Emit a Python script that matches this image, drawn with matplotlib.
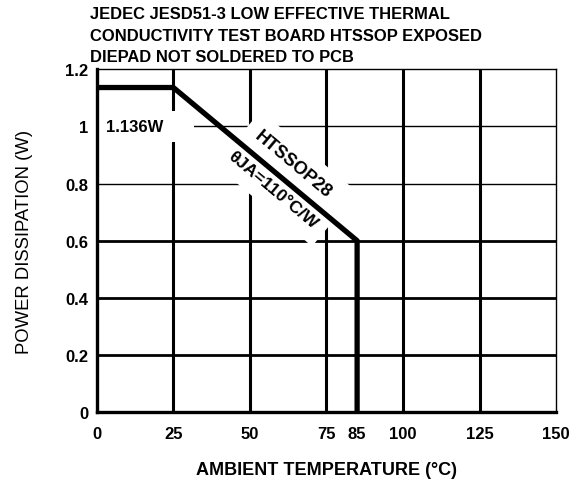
import matplotlib
matplotlib.use("Agg")
import matplotlib.pyplot as plt

plt.rcParams["font.family"] = ["Liberation Sans", "DejaVu Sans"]

# derating curve: flat at max power up to 25 C, then theta_JA slope to 85 C
temps = [0, 25, 85, 85]
power = [1.136, 1.136, 0.6, 0]

x_ticks = [0, 25, 50, 75, 85, 100, 125, 150]
x_grid = [25, 50, 75, 100, 125]
y_ticks = [0, 0.2, 0.4, 0.6, 0.8, 1.0, 1.2]
y_labels = ["0", "0.2", "0.4", "0.6", "0.8", "1", "1.2"]
y_grid_thick = [0.2, 0.4, 0.6]
y_grid_thin = [0.8, 1.0]

title = ("JEDEC JESD51-3 LOW EFFECTIVE THERMAL\n"
         "CONDUCTIVITY TEST BOARD HTSSOP EXPOSED\n"
         "DIEPAD NOT SOLDERED TO PCB")

fig = plt.figure(figsize=(5.83, 4.81), dpi=100)
ax = fig.add_axes([0.166, 0.141, 0.788, 0.713])

for xv in x_grid:
    ax.axvline(xv, color="black", lw=2.2, zorder=1)
for yv in y_grid_thick:
    ax.axhline(yv, color="black", lw=2.0, zorder=1)
for yv in y_grid_thin:
    ax.axhline(yv, color="black", lw=1.0, zorder=1)

ax.plot(temps, power, color="black", lw=3.8, solid_capstyle="butt", zorder=4)

ax.text(2.9, 1.0, "1.136W     ", ha="left", va="center", fontsize=12, fontweight="bold",
        bbox=dict(facecolor="white", edgecolor="none", pad=6), zorder=2)
box = dict(facecolor="white", edgecolor="none", pad=8)
ax.text(64, 0.87, "HTSSOP28", ha="center", va="center", rotation=-40,
        rotation_mode="anchor", fontsize=13, fontweight="bold", bbox=box, zorder=2)
ax.text(57.5, 0.78, "θJA=110°C/W", ha="center", va="center", rotation=-40,
        rotation_mode="anchor", fontsize=12.6, fontweight="bold", bbox=box, zorder=2)

ax.set_xlim(0, 150)
ax.set_ylim(0, 1.2)
ax.set_xticks(x_ticks)
ax.set_yticks(y_ticks)
ax.set_yticklabels(y_labels)
ax.tick_params(length=0, labelsize=12)
ax.tick_params(axis="x", pad=10)
ax.tick_params(axis="y", pad=6)
for lab in ax.get_xticklabels() + ax.get_yticklabels():
    lab.set_fontweight("bold")
for side in ["left", "bottom"]:
    ax.spines[side].set_linewidth(2.4)
for side in ["top", "right"]:
    ax.spines[side].set_linewidth(1.0)

ax.set_xlabel("AMBIENT TEMPERATURE (°C)", fontsize=13, fontweight="bold")
ax.xaxis.set_label_coords(0.5, -0.143)
ax.set_ylabel("POWER DISSIPATION (W)", fontsize=13.3)
ax.yaxis.set_label_coords(-0.139, 0.5)

fig.text(0.154, 0.985, title, ha="left", va="top", fontsize=11.9, fontweight="bold",
         linespacing=1.55)

fig.savefig("out.png", dpi=100)
